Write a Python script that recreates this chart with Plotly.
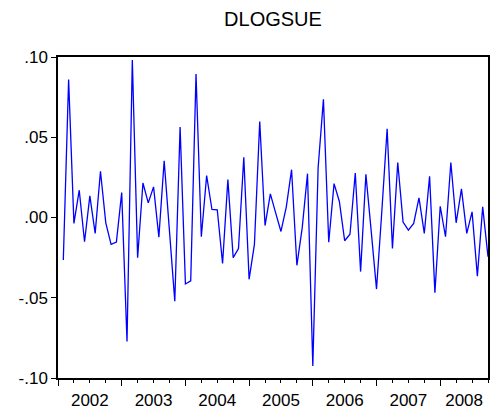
import plotly.graph_objects as go

# Monthly log-difference series, 2002M02 .. 2008M10
start_year = 2002
first_month = 2  # February 2002
dlogsue = [
    -0.0265, 0.0859, -0.0037, 0.0170, -0.0151, 0.0135, -0.0099, 0.0288, -0.0033, -0.0168, -0.0153,
    0.0155, -0.0772, 0.0981, -0.0250, 0.0215, 0.0091, 0.0191, -0.0122, 0.0354, -0.0085, -0.0522,
    0.0563, -0.0414, -0.0395, 0.0894, -0.0120, 0.0261, 0.0050, 0.0048, -0.0286, 0.0236, -0.0250,
    -0.0194, 0.0375, -0.0385, -0.0168, 0.0598, -0.0050, 0.0147, 0.0029, -0.0087, 0.0065, 0.0298,
    -0.0298, -0.0065, 0.0273, -0.0925, 0.0310, 0.0736, -0.0154, 0.0211, 0.0100, -0.0145, -0.0104,
    0.0277, -0.0337, 0.0269, -0.0085, -0.0446, 0.0039, 0.0553, -0.0193, 0.0343, -0.0029, -0.0079,
    -0.0037, 0.0122, -0.0099, 0.0257, -0.0468, 0.0070, -0.0120, 0.0343, -0.0033, 0.0178, -0.0099,
    0.0035, -0.0365, 0.0066, -0.0244,
]
year_labels = ["2002", "2003", "2004", "2005", "2006", "2007", "2008"]
y_ticks = [-0.10, -0.05, 0.0, 0.05, 0.10]
y_tick_text = ["-.10", "-.05", ".00", ".05", ".10"]

# months elapsed since January 2002
x = [first_month - 1 + i for i in range(len(dlogsue))]
x_end = x[-1]
year_starts = [12 * k for k in range(len(year_labels))]
quarters = [m for m in range(0, x_end + 1, 3) if m % 12 != 0]
label_pos = [(s + x_end) / 2 if s + 12 > x_end else s + 6 for s in year_starts]

font = "Liberation Sans, Arial, sans-serif"

fig = go.Figure()
fig.add_trace(go.Scatter(x=x, y=dlogsue, mode="lines",
                         line=dict(color="#0000FF", width=1.3),
                         hoverinfo="skip", showlegend=False))
# carrier trace for the year-label axis
fig.add_trace(go.Scatter(x=[x[0]], y=[0], xaxis="x2", mode="markers",
                         marker=dict(opacity=0), hoverinfo="skip", showlegend=False))

fig.update_layout(
    width=495, height=415,
    margin=dict(l=58, r=5, t=57, b=36),
    paper_bgcolor="white", plot_bgcolor="white",
    font=dict(family=font, size=17, color="black"),
    title=dict(text="DLOGSUE", x=0.5, xref="paper", xanchor="center",
               y=1 - 19 / 415, yref="container", yanchor="middle",
               font=dict(size=20, family=font, color="black")),
    xaxis=dict(range=[0, x_end], tickmode="array", tickvals=year_starts,
               showticklabels=False, ticks="outside", ticklen=6, tickwidth=1,
               tickcolor="black", showline=True, linecolor="black", linewidth=1.5,
               mirror=True, showgrid=False, zeroline=False,
               minor=dict(tickmode="array", tickvals=quarters, ticks="outside",
                          ticklen=3, tickwidth=1, tickcolor="black", showgrid=False)),
    xaxis2=dict(overlaying="x", matches="x", side="bottom", tickmode="array",
                tickvals=label_pos, ticktext=year_labels, ticks="outside",
                ticklen=7, tickcolor="rgba(0,0,0,0)", showline=False,
                showgrid=False, zeroline=False, tickfont=dict(size=17, family=font)),
    yaxis=dict(range=[-0.10, 0.10], tickmode="array", tickvals=y_ticks,
               ticktext=y_tick_text, ticks="outside", ticklen=5, tickwidth=1,
               tickcolor="black", showline=True, linecolor="black", linewidth=1.5,
               mirror=True, showgrid=False, zeroline=False,
               tickfont=dict(size=17, family=font)),
)

fig.write_html("out.html")
